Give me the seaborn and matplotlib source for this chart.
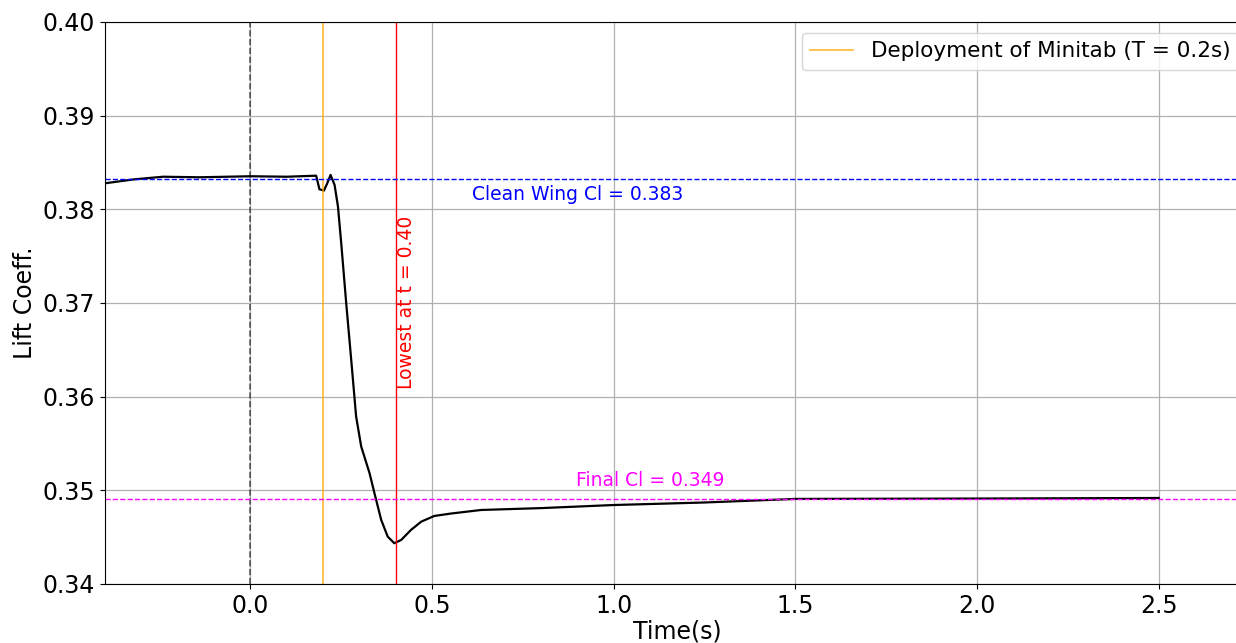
import numpy as np
import pandas as pd
import matplotlib
matplotlib.use("Agg")
import matplotlib.pyplot as plt
import seaborn as sns

tiempo = [-0.40, -0.32, -0.24, -0.14, 0.00, 0.10, 0.181, 0.190, 0.2025, 0.2115,
          0.2206, 0.2317, 0.241, 0.250, 0.2637, 0.2775, 0.291, 0.305, 0.328, 0.3415,
          0.360, 0.378, 0.396, 0.415, 0.442, 0.470, 0.506, 0.552, 0.635, 0.80,
          1.00, 1.25, 1.50, 2.00, 2.50]
cl = [0.38278, 0.3832, 0.38348, 0.38342, 0.38353, 0.38348, 0.38359, 0.38214, 0.3820, 0.38278,
      0.38367, 0.3826, 0.3803, 0.37637, 0.36997, 0.36392, 0.35787, 0.35467, 0.35182, 0.34968,
      0.34684, 0.34505, 0.34435, 0.3447, 0.34577, 0.34665, 0.34726, 0.34752, 0.3479, 0.3481,
      0.34843, 0.3487, 0.34908, 0.34912, 0.34918]

t_minitab = 0.2
t_min = 0.40
cl_limpio = 0.3832
cl_final = 0.3491

df = pd.DataFrame({"Time(s)": tiempo, "Lift Coeff.": cl})

fig = plt.figure(figsize=(12.36, 6.43), dpi=100)
ax = fig.add_axes([0.085, 0.0918, 0.926, 0.874])

sns.lineplot(data=df, x="Time(s)", y="Lift Coeff.", ax=ax, color="black", linewidth=1.6)

ax.axvline(0.0, color="black", linestyle="--", linewidth=1.2, alpha=0.6)
ax.axvline(t_minitab, color="orange", linewidth=1.2, alpha=0.8, label="Deployment of Minitab (T = 0.2s)")
ax.axvline(t_min, color="red", linewidth=1.0)
ax.axhline(cl_limpio, color="blue", linestyle="--", linewidth=1.0)
ax.axhline(cl_final, color="magenta", linestyle="--", linewidth=1.0)

ax.text(0.9, 0.3816, f"Clean Wing Cl = {0.383:.3f}", color="blue", fontsize=13.5, ha="center", va="center")
ax.text(1.1, 0.3511, f"Final Cl = {0.349:.3f}", color="magenta", fontsize=13.5, ha="center", va="center")
ax.text(0.431, 0.3701, f"Lowest at t = {t_min:.2f}", color="red", fontsize=13.5, rotation=90,
        ha="center", va="center")

ax.set_xlim(-0.4, 2.75)
ax.set_ylim(0.34, 0.40)
ax.set_xticks([0.0, 0.5, 1.0, 1.5, 2.0, 2.5])
ax.set_yticks(np.arange(0.34, 0.4001, 0.01))
ax.yaxis.set_major_formatter(matplotlib.ticker.FormatStrFormatter("%.2f"))
ax.tick_params(labelsize=17)
ax.set_xlabel("Time(s)", fontsize=17, labelpad=1)
ax.set_ylabel("Lift Coeff.", fontsize=17)
ax.grid(True, color="#b0b0b0", linewidth=0.9)
ax.legend(loc="upper right", fontsize=15.5)

fig.savefig("out.png", dpi=100)
